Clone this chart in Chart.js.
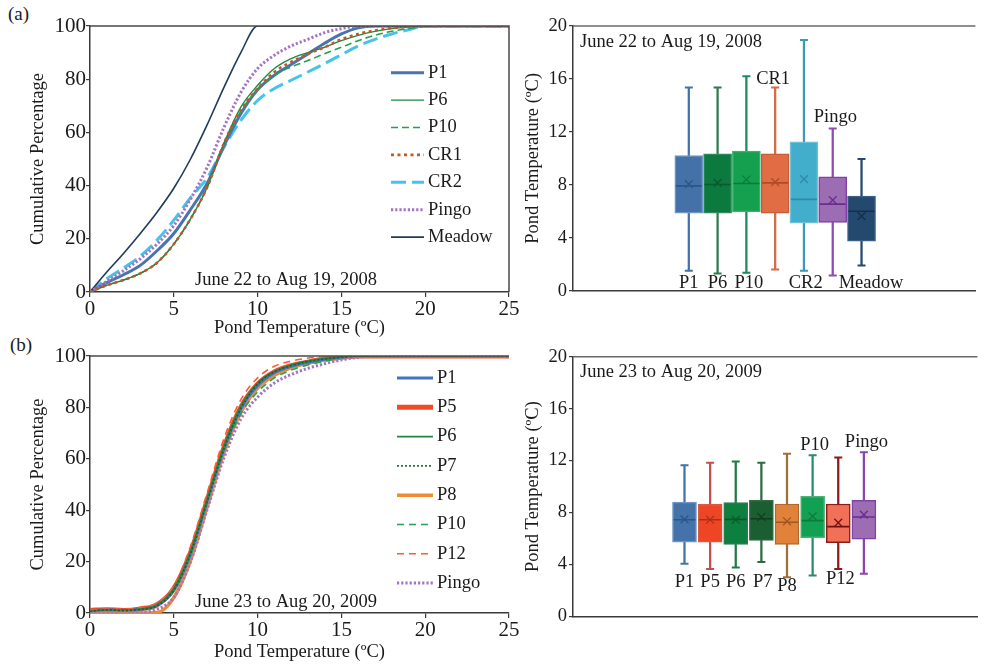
<!DOCTYPE html>
<html>
<head>
<meta charset="utf-8">
<script src="https://cdn.jsdelivr.net/npm/chart.js@4.4.1/dist/chart.umd.min.js"></script>
<style>
body { margin: 0; width: 984px; height: 664px; overflow: hidden; background: #fff; position: relative; }
canvas { position: absolute; }
.tag { position: absolute; font: 19px 'Liberation Serif', serif; color: #1a1a1a; }
</style>
</head>
<body>
<div class="tag" style="left:8px;top:3px">(a)</div>
<div class="tag" style="left:10px;top:334px">(b)</div>
<canvas id="cdf08" width="520" height="340" style="left:0;top:0"></canvas>
<canvas id="cdf09" width="520" height="324" style="left:0;top:340px"></canvas>
<canvas id="box08" width="470" height="320" style="left:520px;top:0"></canvas>
<canvas id="box09" width="470" height="324" style="left:520px;top:340px"></canvas>
<script>
// ---- cumulative distributions, 2008 ----
const temps08 = [0,1,2,3,4,5,6,7,8,9,10,11,12,13,14,15,16,17,18,19,20,21,22,23,24,25];
const ponds08 = ['P1', 'P6', 'P10', 'CR1', 'CR2', 'Pingo', 'Meadow'];
const cumP1_08   = [0,3.5,6.5,10,15.5,22,31,41,55,67,76,81.5,85.5,89.5,93.5,97,99.3,100,100,100,100,100,100,100,100,100];
const cumP6_08   = [0,2.5,4.5,7,11,18,27.5,39.5,56,69.5,77.7,84,87.7,90,92,94.5,96.5,98,99,99.6,100,100,100,100,100,100];
const cumP10_08  = [0,2.5,4.5,7,11,18,27.5,39.5,56,68,76,81.5,84.6,87,89.6,92,94.5,96.5,98,99,99.8,100,100,100,100,100];
const cumCR1_08  = [0,2.5,4.5,7,11,18,27.5,39.5,56,68.5,76.5,82.7,86.5,89.5,92,95,97,98.3,99.2,99.7,100,100,100,100,100,100];
const cumCR2_08  = [0,5,9,13.5,19.5,27,35.5,43,54.5,64.5,72,76.5,79.6,82.7,85.9,89.2,92.5,95,97,98.6,100,100,100,100,100,100];
const cumPingo08 = [0,4,8,12.5,18,25,35,47,62,75,84,89,92.5,95,97.5,99,100,100,100,100,100,100,100,100,100,100];
const cumMeadow08 = [0,7.5,14.5,22,30,39,50,63,77,90,100,100,100,100,100,100,100,100,100,100,100,100,100,100,100,100];

// ---- cumulative distributions, 2009 ----
const temps09 = [0,1,2,3,4,5,6,7,8,9,10,11,12,13,14,15,16,17,18,19,20,21,22,23,24,25];
const ponds09 = ['P1', 'P5', 'P6', 'P7', 'P8', 'P10', 'P12', 'Pingo'];
const cumP1_09   = [0.8,1.3,1,1.5,3,9,23,43.5,64,79.5,88.5,93.5,96,97.5,98.7,99.5,100,100,100,100,100,100,100,100,100,100];
const cumP5_09   = [1,1.3,1,1.6,3.2,9.5,23.5,44,64.5,80,89,93.8,96.2,97.6,98.8,99.5,100,100,100,100,100,100,100,100,100,100];
const cumP6_09   = [0.8,1.2,1,1.5,3,9.5,24,44.5,65,80.5,89.5,94,96.5,98,99,99.6,100,100,100,100,100,100,100,100,100,100];
const cumP7_09   = [0.6,1.2,1,1.4,2.8,8.8,23,43.5,64,79.5,89,93.8,96.2,97.8,98.8,99.5,100,100,100,100,100,100,100,100,100,100];
const cumP8_09   = [0,0,0,0,0.2,6,20.5,41.5,62.5,78,87.5,92.5,95.5,97.2,98.5,99.3,100,100,100,100,100,100,100,100,100,100];
const cumP10_09  = [0.8,1.2,1,1.5,3,8.5,22.5,43,63,77.5,86,91.5,94.5,96.5,98,99.2,100,100,100,100,100,100,100,100,100,100];
const cumP12_09  = [1,1.5,1.5,2,4,10.5,26,47,68,83,91.5,96,98,99.2,99.7,100,100,100,100,100,100,100,100,100,100,100];
const cumPingo09 = [0.3,0.3,0.3,0.3,1.5,6,20,40.5,60.5,75.5,84,89.5,92.8,95.2,97,98.5,99.5,100,100,100,100,100,100,100,100,100];

// ---- box plot statistics (deg C) ----
const minT08  = [1.5, 1.3, 1.35, 1.6, 1.5, 1.15, 1.9];
const q1T08   = [5.85, 5.85, 5.95, 5.85, 5.1, 5.15, 3.75];
const medT08  = [7.92, 8.02, 8.1, 8.15, 6.9, 6.54, 6.0];
const meanT08 = [8.05, 8.15, 8.4, 8.2, 8.43, 6.84, 5.64];
const q3T08   = [10.2, 10.35, 10.55, 10.35, 11.25, 8.6, 7.15];
const maxT08  = [15.35, 15.35, 16.2, 15.35, 18.95, 12.25, 9.95];

const minT09  = [4.06, 3.65, 3.78, 4.19, 3.03, 3.16, 3.65, 3.29];
const q1T09   = [5.73, 5.73, 5.55, 5.86, 5.55, 6.04, 5.68, 5.96];
const medT09  = [7.45, 7.45, 7.48, 7.53, 7.25, 7.38, 6.92, 7.66];
const meanT09 = [7.48, 7.45, 7.45, 7.66, 7.33, 7.71, 7.22, 7.84];
const q3T09   = [8.8, 8.66, 8.77, 8.95, 8.66, 9.25, 8.66, 8.95];
const maxT09  = [11.65, 11.83, 11.93, 11.83, 12.52, 12.42, 12.24, 12.65];

const period08 = 'June 22 to Aug 19, 2008';
const period09 = 'June 23 to Aug 20, 2009';
const tempTitle = 'Pond Temperature (\u00baC)';

Chart.defaults.font.family = "'Liberation Serif', 'Times New Roman', serif";
Chart.defaults.color = '#1a1a1a';
Chart.defaults.animation = false;

const serif = (size) => ({ family: "'Liberation Serif', serif", size: size });

// frame lines on top (and right) of the plot area
const frameLines = {
  id: 'frameLines',
  afterDatasetsDraw(chart, args, opts) {
    const { ctx, chartArea: a } = chart;
    ctx.save();
    ctx.strokeStyle = opts.color || '#555';
    ctx.lineWidth = 1.5;
    ctx.beginPath();
    ctx.moveTo(a.left, a.top);
    ctx.lineTo(a.right, a.top);
    if (opts.right) ctx.lineTo(a.right, a.bottom);
    ctx.stroke();
    ctx.restore();
  }
};

// line-sample legend drawn inside the plot
const lineLegend = {
  id: 'lineLegend',
  afterDraw(chart, args, opts) {
    const ctx = chart.ctx;
    ctx.save();
    ctx.font = "18.5px 'Liberation Serif', serif";
    ctx.textBaseline = 'middle';
    opts.names.forEach((name, i) => {
      const ds = chart.data.datasets.find(d => d.label === name);
      const y = opts.y0 + i * opts.dy;
      ctx.strokeStyle = ds.borderColor;
      ctx.lineWidth = ds.borderWidth;
      ctx.setLineDash(ds.borderDash || []);
      ctx.beginPath();
      ctx.moveTo(opts.x0, y);
      ctx.lineTo(opts.x1, y);
      ctx.stroke();
      ctx.setLineDash([]);
      ctx.fillStyle = '#1a1a1a';
      ctx.fillText(name, opts.x1 + 4, y);
    });
    ctx.restore();
  }
};

// free text: period caption and pond names
const captions = {
  id: 'captions',
  afterDraw(chart, args, opts) {
    const ctx = chart.ctx;
    const xs = chart.scales.x, ys = chart.scales.y;
    ctx.save();
    ctx.font = "18.5px 'Liberation Serif', serif";
    ctx.fillStyle = '#1a1a1a';
    ctx.textBaseline = 'middle';
    ctx.textAlign = opts.periodAlign;
    ctx.fillText(opts.period, opts.periodX, opts.periodY);
    ctx.textAlign = 'center';
    (opts.names || []).forEach((name, i) => {
      const spot = opts.spots[i];
      ctx.fillText(name, xs.getPixelForValue(i + 1 + spot[0]), ys.getPixelForValue(spot[1]));
    });
    ctx.restore();
  }
};

function axisBase(extra) {
  return Object.assign({
    grid: { display: true, drawOnChartArea: false, drawTicks: true, tickLength: 5, color: '#3a3a3a', lineWidth: 1.2 },
    border: { display: true, color: '#3a3a3a', width: 1.5 }
  }, extra);
}

function cdfChart(id, temps, names, series, looks, period, layout) {
  const datasets = names.map((name, k) => ({
    label: name,
    data: temps.map((t, i) => ({ x: t, y: series[k][i] })),
    borderColor: looks[k].color,
    borderWidth: looks[k].width,
    borderDash: looks[k].dash,
    borderCapStyle: 'butt',
    pointRadius: 0,
    fill: false,
    cubicInterpolationMode: 'monotone',
    order: looks[k].order
  }));
  return new Chart(document.getElementById(id), {
    type: 'line',
    data: { datasets },
    plugins: [frameLines, lineLegend, captions],
    options: {
      responsive: false,
      layout: { padding: { left: 23, right: 11, top: layout.top, bottom: 0 } },
      scales: {
        x: axisBase({
          type: 'linear', min: 0, max: 25,
          ticks: { stepSize: 5, font: serif(21), padding: 0, maxRotation: 0 },
          title: { display: true, text: tempTitle, font: serif(18.5), padding: { top: 0, bottom: 1 } },
          afterFit: s => { s.height = layout.xh; }
        }),
        y: axisBase({
          min: 0, max: 100,
          ticks: { stepSize: 20, font: serif(21), padding: 0 },
          grid: { display: true, drawOnChartArea: false, tickLength: 4, color: '#3a3a3a', lineWidth: 1.2 },
          title: { display: true, text: 'Cumulative Percentage', font: serif(18.5), padding: { top: 4, bottom: 0 } },
          afterFit: s => { s.width = 67; }
        })
      },
      plugins: {
        legend: { display: false },
        tooltip: { enabled: false },
        frameLines: { right: layout.rightLine, color: '#4a4a4a' },
        lineLegend: layout.legend,
        captions: { period, periodAlign: 'center', periodX: 286, periodY: layout.periodY }
      }
    }
  });
}

function boxChart(id, names, lo, q1, med, avg, q3, hi, look, period, layout) {
  const at = (vals) => names.map((n, i) => ({ x: i + 1, y: vals[i] }));
  const mark = (vals, style, radius, colors, width) => ({
    type: 'line', data: at(vals), showLine: false,
    pointStyle: style, pointRadius: radius, pointHoverRadius: radius,
    pointBorderColor: colors, pointBackgroundColor: colors, pointBorderWidth: width,
    order: 1
  });
  const datasets = [
    {
      type: 'bar', data: names.map((n, i) => ({ x: i + 1, y: [lo[i], hi[i]] })),
      backgroundColor: look.whisker, barThickness: 1.6, maxBarThickness: 1.6, grouped: false, order: 4
    },
    {
      type: 'bar', data: names.map((n, i) => ({ x: i + 1, y: [q1[i], q3[i]] })),
      backgroundColor: look.fill, borderColor: look.edge, borderWidth: 1.5, borderSkipped: false,
      barThickness: layout.boxW, maxBarThickness: layout.boxW, grouped: false, order: 3
    },
    mark(lo, 'line', 4, look.whisker, 2),
    mark(hi, 'line', 4, look.whisker, 2),
    mark(med, 'line', layout.boxW / 2 - 1, look.dark, 1.6),
    mark(avg, 'crossRot', 5.5, look.dark, 1.3)
  ];
  return new Chart(document.getElementById(id), {
    type: 'bar',
    data: { datasets },
    plugins: [frameLines, captions],
    options: {
      responsive: false,
      layout: { padding: { left: 0, right: 0, top: layout.top, bottom: 0 } },
      scales: {
        x: {
          type: 'linear', min: layout.xMin, max: layout.xMax, offset: false,
          ticks: { display: false },
          grid: { display: false },
          border: { display: true, color: '#3a3a3a', width: 1.5 },
          afterFit: s => { s.height = layout.xh; }
        },
        y: axisBase({
          min: 0, max: 20,
          ticks: { stepSize: 4, font: serif(18.5), padding: 2 },
          grid: { display: true, drawOnChartArea: false, tickLength: 4, color: '#3a3a3a', lineWidth: 1.2 },
          title: { display: true, text: tempTitle, font: serif(18.5), padding: { top: 2, bottom: 0 } },
          afterFit: s => { s.width = 53; }
        })
      },
      plugins: {
        legend: { display: false },
        tooltip: { enabled: false },
        frameLines: { right: false, color: '#6a6a6a' },
        captions: { period, periodAlign: 'left', periodX: 60, periodY: layout.periodY, names, spots: layout.spots }
      }
    }
  });
}

cdfChart('cdf08', temps08, ponds08,
  [cumP1_08, cumP6_08, cumP10_08, cumCR1_08, cumCR2_08, cumPingo08, cumMeadow08],
  [
    { color: '#4a74ae', width: 3, dash: [], order: 2 },
    { color: '#1c8a42', width: 1.4, dash: [], order: 1 },
    { color: '#22a04e', width: 1.6, dash: [7, 4], order: 1 },
    { color: '#c0582c', width: 2.6, dash: [3, 3.5], order: 0 },
    { color: '#45c3e8', width: 3, dash: [15, 6], order: 3 },
    { color: '#a374c4', width: 3, dash: [2.2, 2], order: 0 },
    { color: '#1f3b5c', width: 1.6, dash: [], order: 0 }
  ],
  period08,
  { top: 26, xh: 48, rightLine: true, periodY: 280,
    legend: { names: ponds08, x0: 391, x1: 424, y0: 72.7, dy: 27.4 } });

cdfChart('cdf09', temps09, ponds09,
  [cumP1_09, cumP5_09, cumP6_09, cumP7_09, cumP8_09, cumP10_09, cumP12_09, cumPingo09],
  [
    { color: '#4472c4', width: 3, dash: [], order: 4 },
    { color: '#ef4b26', width: 5, dash: [], order: 6 },
    { color: '#1c8a42', width: 1.6, dash: [], order: 1 },
    { color: '#1b5e31', width: 1.6, dash: [2, 2], order: 0 },
    { color: '#ef8a35', width: 3.5, dash: [], order: 5 },
    { color: '#24a050', width: 1.6, dash: [7, 5], order: 2 },
    { color: '#ff5a33', width: 1.6, dash: [7, 5], order: 2 },
    { color: '#a374c4', width: 3, dash: [2.2, 2], order: 0 }
  ],
  period09,
  { top: 16, xh: 51, rightLine: false, periodY: 262,
    legend: { names: ponds09, x0: 397, x1: 433, y0: 38, dy: 29.3 } });

boxChart('box08', ponds08, minT08, q1T08, medT08, meanT08, q3T08, maxT08,
  {
    fill:    ['#4472a8', '#0c7a3e', '#14a04f', '#e06d43', '#43aecb', '#9d6db3', '#24496f'],
    edge:    ['#6e95c4', '#2f8a58', '#3cb070', '#c95c36', '#6cc0d8', '#8040a8', '#3a5f85'],
    whisker: ['#4472a8', '#2f7a4f', '#1c8a5c', '#d66a45', '#3a9ab8', '#8c4cb0', '#24496f'],
    dark:    ['#2d5586', '#0a5a2c', '#0e7a3a', '#b04a2a', '#2f8aa8', '#6a2d8e', '#152f4c']
  },
  period08,
  { top: 26, xh: 29.3, boxW: 28, xMin: -3.023, xMax: 10.956, periodY: 42,
    spots: [[0, 0.6], [0, 0.6], [0.09, 0.6], [-0.07, 16.0], [0.06, 0.6], [0.09, 13.1], [0.33, 0.6]] });

boxChart('box09', ponds09, minT09, q1T09, medT09, meanT09, q3T09, maxT09,
  {
    fill:    ['#4473a9', '#ee4524', '#0d7f3e', '#1b5e31', '#e0823a', '#12a052', '#f07058', '#9c6db3'],
    edge:    ['#6e95c4', '#d85a40', '#2a7f4c', '#2f6a40', '#b06a30', '#50b07a', '#8a1c1c', '#8040a8'],
    whisker: ['#4473a9', '#c0504d', '#1f7a48', '#2f6a40', '#a0703a', '#2e8b6a', '#8a1c1c', '#8e44ad'],
    dark:    ['#2d5586', '#a83218', '#0a5a2c', '#0f3d1e', '#a0561f', '#0e7a3a', '#6e1010', '#6a2d8e']
  },
  period09,
  { top: 16.7, xh: 47.5, boxW: 24, xMin: -3.351, xMax: 12.43, periodY: 32,
    spots: [[0, 2.68], [0, 2.68], [0, 2.68], [0.05, 2.68], [0, 2.3], [0.08, 13.2], [0.08, 2.86], [0.1, 13.45]] });
</script>
</body>
</html>
